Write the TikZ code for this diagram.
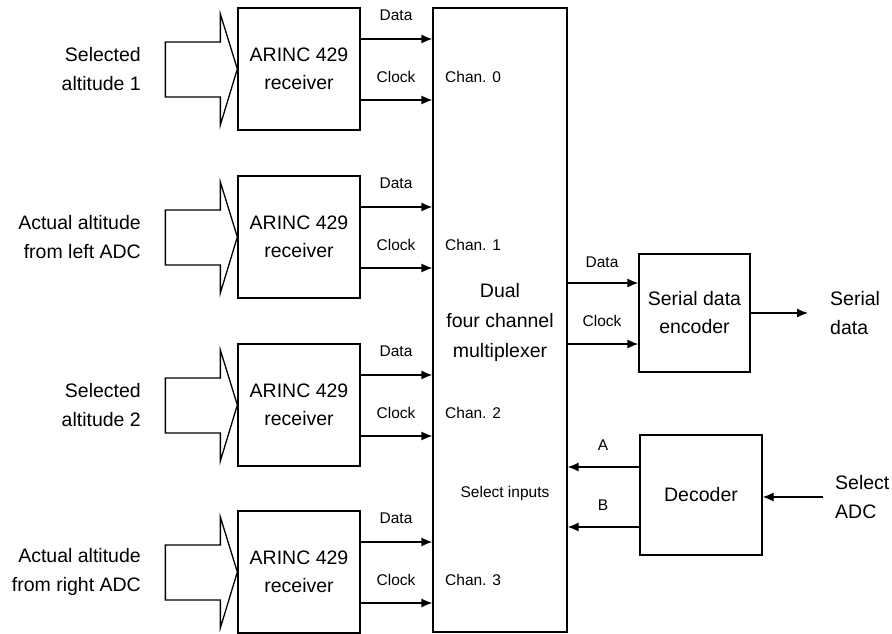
\documentclass[tikz,border=0pt]{standalone}
\usepackage{fontspec}
\setmainfont{Liberation Sans}
\usetikzlibrary{arrows.meta}
\begin{document}
\begin{tikzpicture}[x=1pt,y=-1pt,
  box/.style={draw,line width=1.3pt,align=center,font=\fontsize{19.5}{28}\selectfont,inner sep=0pt},
  txt/.style={align=center,font=\fontsize{19.5}{30}\selectfont,inner sep=0pt},
  lbl/.style={font=\fontsize{15.5}{20}\selectfont,inner sep=0pt},
  side/.style={align=right,anchor=east,font=\fontsize{19.5}{29}\selectfont,inner sep=0pt},
  conn/.style={line width=1.3pt,-{Latex[length=11pt,width=9pt]}},
  bigarrow/.style={draw,line width=1.3pt,line join=miter}]
\useasboundingbox (0,0) rectangle (892,634);
% multiplexer
\node[box,minimum width=134pt,minimum height=624pt] (mux) at (500,320) {};
\node[txt] (muxtxt) at (500,322) {Dual\\four channel\\multiplexer};
\node[lbl] (selin) at (505,493) {Select inputs};
% receivers
\foreach \i/\cy/\txt in {0/69/{Selected\\altitude 1},1/237/{Actual altitude\\from left ADC},2/405/{Selected\\altitude 2},3/572/{Actual altitude\\from right ADC}}{
  \node[box,minimum width=122pt,minimum height=122pt] (rec\i) at (299,\cy) {ARINC 429\\receiver};
  \node[side] (in\i) at (141,\cy) {\txt};
  \draw[bigarrow] (rec\i.west) -- ++(-17,-55) -- ++(0,28) -- ++(-55,0) -- ++(0,55) -- ++(55,0) -- ++(0,28) -- cycle;
  \coordinate (d\i) at ([yshift=30pt]rec\i.east -| mux.west);
  \coordinate (c\i) at ([yshift=-31pt]rec\i.east -| mux.west);
  \draw[conn] ([yshift=30pt]rec\i.east) -- (d\i);
  \draw[conn] ([yshift=-31pt]rec\i.east) -- (c\i);
  \node[lbl] (dl\i) at (396,\cy-54) {Data};
  \node[lbl] (cl\i) at (396,\cy+8) {Clock};
  \node[lbl,anchor=west] (ch\i) at (445,\cy+8) {Chan. \i};
}
% encoder
\node[box,minimum width=111pt,minimum height=118pt] (enc) at (694.5,313) {Serial data\\encoder};
\draw[conn] ([yshift=30pt]enc.west -| mux.east) -- ([yshift=30pt]enc.west);
\draw[conn] ([yshift=-31pt]enc.west -| mux.east) -- ([yshift=-31pt]enc.west);
\node[lbl] (edl) at (602,262) {Data};
\node[lbl] (ecl) at (602,321) {Clock};
\coordinate (sout) at (808,313);
\draw[conn] (enc.east) -- (sout);
\node[side,align=left,anchor=west] (sdtxt) at (830,313) {Serial\\data};
% decoder
\node[box,minimum width=122pt,minimum height=120pt] (dec) at (701,495) {Decoder};
\draw[conn] ([yshift=28pt]dec.west) -- ([yshift=28pt]dec.west -| mux.east);
\draw[conn] ([yshift=-32pt]dec.west) -- ([yshift=-32pt]dec.west -| mux.east);
\node[lbl] (al) at (603,445) {A};
\node[lbl] (bl) at (603,505) {B};
\coordinate (sadc) at (823,497);
\draw[conn] (sadc) -- (sadc -| dec.east);
\node[side,align=left,anchor=west] (sadctxt) at (835,497) {Select\\ADC};
\end{tikzpicture}
\end{document}
